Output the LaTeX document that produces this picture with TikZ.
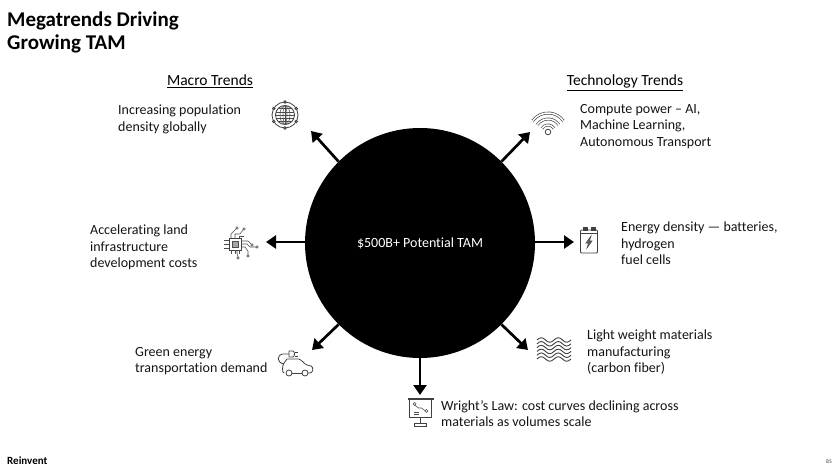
\documentclass[tikz,border=0pt]{standalone}
\usepackage{fontspec}
\setmainfont{Carlito}[Ligatures=CommonOff]
\usepackage{tikz}
\usetikzlibrary{positioning}
\usetikzlibrary{calc,arrows.meta}
\tikzset{
  txt/.style = {inner sep=0pt, align=left, anchor=north west, text=black!92,
   font=\fontsize{14}{16.5}\selectfont},
  head/.style = {inner sep=0pt, anchor=north, font=\fontsize{15.5}{18}\selectfont},
  spoke/.style = {-{Triangle[length=10pt,width=13pt]}, line width=2.7pt},
  icon/.style = {draw=black!75, line width=0.8pt},
  thin icon/.style = {draw=black!70, line width=0.55pt},
}

\begin{document}
\begin{tikzpicture}[x=1pt, y=-1pt]
  \useasboundingbox (0,0) rectangle (840,473);
  % title and column heads
  \node (title) [inner sep=0pt, align=left, anchor=north west, font=\bfseries\fontsize{21}{22.5}\selectfont] at (7,12) {Megatrends Driving\\Growing TAM};
  \node (macro) [head] at (210,75) {\underline{Macro Trends}};
  \node (tech) [head] at (625,75) {\underline{Technology Trends}};

  \node (hub) [circle, fill=black, minimum size=230pt, inner sep=0pt, text=white, font=\fontsize{14}{16.5}\selectfont] at (420,243) {\$500B+ Potential TAM};

  % free ends of the spokes
  \coordinate (nw) at (311,131);
  \coordinate (w) at (266,242);
  \coordinate (sw) at (312,350);
  \coordinate (s) at (420,395);
  \coordinate (se) at (528,350);
  \coordinate (e) at (574,242);
  \coordinate (ne) at (530,132);
  \draw [spoke] (hub.135) -- (nw);
  \draw [spoke] (hub.west |- w) -- (w);
  \draw [spoke] (hub.225) -- (sw);
  \draw [spoke] (hub.south) -- (s);
  \draw [spoke] (hub.315) -- (se);
  \draw [spoke] (hub.east |- e) -- (e);
  \draw [spoke] (hub.45) -- (ne);

  % labels
  \node (pop) [txt] at (118,105) {Increasing population\\density globally};
  \node (land) [txt] at (90,225) {Accelerating land\\infrastructure\\development costs};
  \node (green) [txt] at (135,347) {Green energy\\transportation demand};
  \node (compute) [txt] at (580,104) {Compute power -- AI,\\Machine Learning,\\Autonomous Transport};
  \node (energy) [txt] at (621,222) {Energy density --- batteries,\\hydrogen\\fuel cells};
  \node (light) [txt] at (587,330) {Light weight materials\\manufacturing\\(carbon fiber)};
  \node (wright) [txt] at (441,400) {Wright’s Law: cost curves declining across\\materials as volumes scale};

  % globe
  \begin{scope}[shift={(285,115)}]
    \draw [icon] (0,0) circle (13);
    \draw [icon] (0,0) circle (9.5);
    \draw [thin icon] (0,0) ellipse (5 and 9.5) (0,0) ellipse (2 and 9.5);
    \draw [thin icon] (-9,-3) -- (9,-3) (-9.5,0) -- (9.5,0) (-9,3) -- (9,3) (-7,-6.5) -- (7,-6.5) (-7,6.5) -- (7,6.5) (0,-9.5) -- (0,9.5);
    \foreach \a in {30,90,...,330}
      \draw [icon, fill=white] (\a:13) circle (1.3);
  \end{scope}

  % chip
  \begin{scope}[shift={(235,244)}]
    \draw [icon, line width=1pt] (-6,-6) rectangle (6,6);
    \draw [thin icon, fill=black!35] (-3,-3) rectangle (3,3);
    \foreach \t in {-4,0,4} {
      \draw [thin icon] (-11,\t) -- (-6,\t);
      \draw [thin icon] (\t,6) -- (\t,10);
    }
    \draw [thin icon] (-4,-6) -- (-4,-10) -- (1,-15);
    \draw [thin icon] (0,-6) -- (0,-10) -- (5,-10) -- (8,-14);
    \draw [thin icon] (4,-6) -- (4,-8) -- (9,-8);
    \draw [thin icon] (6,-3) -- (13,-3) -- (16,0);
    \draw [thin icon] (6,0) -- (12,0) -- (15,3) -- (21,3);
    \draw [thin icon] (6,3) -- (10,3) -- (13,7) -- (13,11);
    \draw [thin icon] (2,6) -- (2,9) -- (3,13);
    \foreach \x/\y in {2/-16,9/-15,17/1,22/3,13/12,3/14}
      \draw [thin icon, fill=white] (\x,\y) circle (1.2);
  \end{scope}

  % electric car
  \begin{scope}[shift={(293,367)}]
    \draw [icon] (-9,6) .. controls (-11,6) and (-11,-1) .. (-9,-4) -- (-6,-8) -- (6,-8) .. controls (9,-7) and (11,-3) .. (14,-2) -- (18,-1) .. controls (21,0) and (20,6) .. (17,6) -- (15,6);
    \draw [icon] (-1,6) -- (9,6);
    \draw [icon] (-4,6) circle (3) (12,6) circle (3);
    \draw [icon] (-9,-3) .. controls (-16,-4) and (-17,-12) .. (-10,-13) -- (-4,-13);
    \draw [icon] (-4,-16) -- (-4,-10) -- (0,-10) .. controls (2,-11) and (2,-15) .. (0,-16) -- cycle;
    \draw [icon] (1.5,-15) -- (5,-15) (1.5,-11) -- (5,-11);
  \end{scope}

  % wifi
  \begin{scope}[shift={(548,132)}]
    \draw [icon] (0,0) circle (2.8);
    \foreach \r/\w in {7/118,13/112,19/108} {
      \draw [draw=black!75, line width=2.8pt] (-90-\w/2:\r) arc (-90-\w/2:-90+\w/2:\r);
      \draw [white, line width=1.5pt] (-90-\w/2:\r) arc (-90-\w/2:-90+\w/2:\r);
    }
  \end{scope}

  % battery
  \begin{scope}[shift={(589,241)}]
    \draw [icon, fill=black!75] (-6,-14) rectangle (-2,-11) (2,-14) rectangle (6,-11);
    \draw [icon, rounded corners=1pt] (-8.5,-11) rectangle (8.5,12);
    \draw [icon] (-8.5,-8) -- (8.5,-8);
    \draw [thin icon, fill=black!60] (2,-5) -- (-3,2) -- (-0.5,2) -- (-2,7) -- (3,0) -- (0.5,0) -- cycle;
  \end{scope}

  % carbon fiber weave
  \begin{scope}[shift={(554,351)}]
    \foreach \y in {-11,-7.2,...,11.8}
      \draw [icon, line width=0.9pt] (-17,\y) .. controls (-14,\y-3) and (-11.5,\y-3) .. (-8.5,\y) .. controls (-5.5,\y+3) and (-3,\y+3) .. (0,\y) .. controls (3,\y-3) and (5.5,\y-3) .. (8.5,\y) .. controls (11.5,\y+3) and (14,\y+3) .. (17,\y);
  \end{scope}

  % presentation board
  \begin{scope}[shift={(420.5,412)}]
    \draw [icon, line width=1.6pt] (-13,-13) -- (13,-13);
    \draw [icon] (-11,-13) -- (-11,5) -- (11,5) -- (11,-13);
    \draw [icon] (0,5) -- (0,11);
    \draw [icon] (-6,11) rectangle (6,14);
    \draw [thin icon] (-6,-7) -- (-2,-4) -- (1,-4) -- (5,-1);
    \draw [thin icon, fill=white] (-6,-8) circle (1.4) (6,-1) circle (1.6);
    \draw [thin icon] (-7,0) -- (-2,0) (-7,2) -- (-2,2);
  \end{scope}

  % footer
  \node (brand) [inner sep=0pt, anchor=west, font=\bfseries\fontsize{11}{12}\selectfont] at (7,461) {Reinvent};
  \node (page) [inner sep=0pt, anchor=east, text=black!80, font=\fontsize{5.5}{6}\selectfont] at (832,462) {85};
\end{tikzpicture}
\end{document}
